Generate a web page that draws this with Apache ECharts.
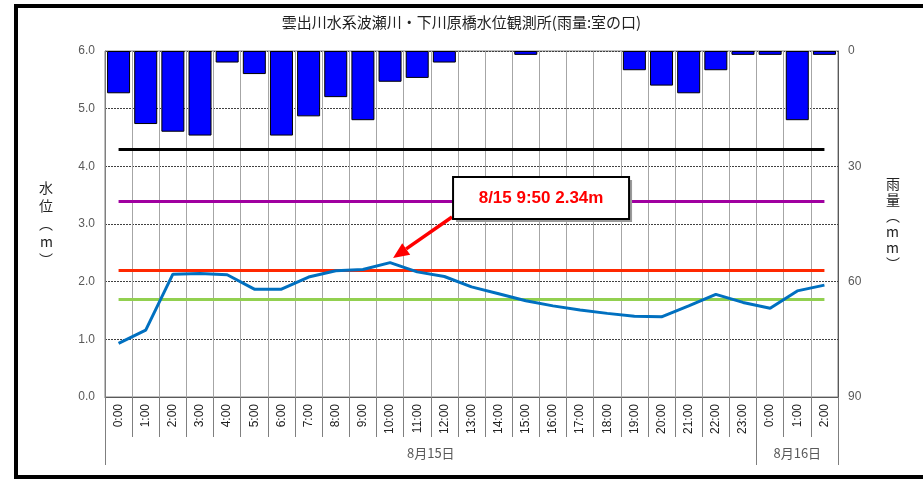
<!DOCTYPE html>
<html>
<head>
<meta charset="utf-8">
<script src="https://cdn.jsdelivr.net/npm/echarts@6/dist/echarts.min.js"></script>
<style>
html, body { margin: 0; padding: 0; background: #fff; }
#main { width: 923px; height: 479px; }
</style>
</head>
<body>
<div id="main"></div>
<script>
// 時刻 (8/15 0:00 ～ 8/16 2:00)
const hours = ['0:00', '1:00', '2:00', '3:00', '4:00', '5:00', '6:00', '7:00', '8:00', '9:00',
  '10:00', '11:00', '12:00', '13:00', '14:00', '15:00', '16:00', '17:00', '18:00', '19:00',
  '20:00', '21:00', '22:00', '23:00', '0:00', '1:00', '2:00'];
// 水位 (m)
const waterLevel = [0.93, 1.16, 2.13, 2.14, 2.12, 1.87, 1.87, 2.08, 2.19, 2.21,
  2.33, 2.17, 2.09, 1.91, 1.79, 1.67, 1.58, 1.51, 1.45, 1.40,
  1.39, 1.58, 1.78, 1.64, 1.54, 1.84, 1.94];
// 雨量 (mm)
const rainfall = [11, 19, 21, 22, 3, 6, 22, 17, 12, 18,
  8, 7, 3, 0, 0, 1, 0, 0, 0, 5,
  9, 11, 5, 1, 1, 18, 1];
// 日付と時間数
const days = ['8月15日', '8月16日'];
const dayHours = [24, 3];
// 基準水位 (m)
const levelValues = [4.3, 3.4, 2.2, 1.7];
// ピーク
const peakLabel = '8/15 9:50 2.34m';
const peakIndex = 10;
const peakValue = 2.34;

const levelColors = ['#000000', '#A000A0', '#FF2800', '#92D050'];

// 日付の境界と中央
let dayBounds = [0];
let dayCenters = [];
dayHours.forEach(h => {
  let start = dayBounds[dayBounds.length - 1];
  dayCenters.push(start + h / 2);
  dayBounds.push(start + h);
});

let myChart = echarts.init(document.getElementById('main'));
let cjk = '"Noto Sans CJK JP", "Liberation Sans", sans-serif';

let option = {
  animation: false,
  textStyle: { fontFamily: cjk },
  title: {
    text: '雲出川水系波瀬川・下川原橋水位観測所(雨量:室の口)',
    left: 'center',
    top: 10,
    textStyle: { fontSize: 15, fontWeight: 'normal', color: '#222', fontFamily: cjk }
  },
  grid: {
    left: 105, right: 85, top: 51, bottom: 82,
    show: true, borderColor: '#7f7f7f', borderWidth: 1
  },
  xAxis: [
    {
      type: 'category',
      data: hours,
      boundaryGap: true,
      axisLine: { onZero: false, lineStyle: { color: '#595959', width: 1 } },
      axisTick: { show: true, interval: 0, length: 40, lineStyle: { color: '#7f7f7f' } },
      axisLabel: {
        interval: 0, rotate: 90, margin: 7,
        fontSize: 12, color: '#222', fontFamily: '"Liberation Sans", sans-serif'
      },
      splitLine: { show: true, interval: 0, lineStyle: { color: '#a6a6a6', width: 1 } }
    },
    {
      type: 'value',
      min: 0,
      max: hours.length,
      position: 'bottom',
      axisLine: { show: false, onZero: false },
      splitLine: { show: false },
      axisTick: {
        show: true, length: 68, customValues: dayBounds,
        lineStyle: { color: '#7f7f7f' }
      },
      axisLabel: {
        customValues: dayCenters,
        margin: 50,
        fontSize: 13,
        color: '#595959',
        formatter: v => days[dayCenters.indexOf(v)] || ''
      }
    }
  ],
  yAxis: [
    {
      type: 'value',
      min: 0, max: 6, interval: 1,
      name: '水\n位\n︵\nm\n︶',
      nameLocation: 'middle',
      nameRotate: 0,
      nameGap: 52,
      nameTextStyle: { fontSize: 14, color: '#222', lineHeight: 18, padding: [0, 0, 30, 0] },
      axisLine: { show: true, onZero: false, lineStyle: { color: '#7f7f7f' } },
      axisTick: { show: false },
      axisLabel: { formatter: v => v.toFixed(1), fontSize: 12, color: '#595959', margin: 10,
        fontFamily: '"Liberation Sans", sans-serif' },
      splitLine: { show: true, lineStyle: { color: '#404040', type: [2, 1], width: 1 } }
    },
    {
      type: 'value',
      min: 0, max: 90, interval: 30,
      inverse: true,
      name: '雨\n量\n︵\nm\nm\n︶',
      nameLocation: 'middle',
      nameRotate: 0,
      nameGap: 48,
      nameTextStyle: { fontSize: 14, color: '#222', lineHeight: 16, padding: [0, 0, 30, 0] },
      axisLine: { show: true, onZero: false, lineStyle: { color: '#595959' } },
      axisTick: { show: false },
      axisLabel: { fontSize: 12, color: '#595959', margin: 10,
        fontFamily: '"Liberation Sans", sans-serif' },
      splitLine: { show: false }
    }
  ],
  series: [
    {
      name: '雨量',
      type: 'bar',
      xAxisIndex: 0,
      yAxisIndex: 1,
      // 0 mm の時刻は棒を描かない
      data: rainfall.map(v => (v === 0 ? null : v)),
      barWidth: 23,
      itemStyle: { color: '#0000FF', borderColor: '#000', borderWidth: 1 },
      z: 2
    },
    {
      name: '基準水位',
      type: 'line',
      xAxisIndex: 0,
      yAxisIndex: 0,
      data: [],
      z: 3,
      markLine: {
        silent: true,
        symbol: ['none', 'none'],
        label: { show: false },
        lineStyle: { width: 3, type: 'solid' },
        data: levelValues.map((v, i) => [
          { coord: [0, v], lineStyle: { color: levelColors[i], width: 3, type: 'solid' } },
          { coord: [hours.length - 1, v] }
        ])
      }
    },
    {
      name: '水位',
      type: 'line',
      xAxisIndex: 0,
      yAxisIndex: 0,
      data: waterLevel,
      showSymbol: false,
      symbol: 'none',
      lineStyle: { color: '#0070C0', width: 3 },
      itemStyle: { color: '#0070C0' },
      z: 5
    }
  ]
};
myChart.setOption(option);

// ピーク注記
let p = myChart.convertToPixel({ seriesIndex: 2 }, [peakIndex, peakValue]);
let tip = [p[0] + 3, p[1] - 4];
let tail = [p[0] + 62, p[1] - 45];
let dx = tip[0] - tail[0], dy = tip[1] - tail[1];
let len = Math.sqrt(dx * dx + dy * dy);
let ux = dx / len, uy = dy / len;
let hl = 16, hw = 7;
let base = [tip[0] - ux * hl, tip[1] - uy * hl];
let boxX = p[0] + 63, boxY = p[1] - 85, boxW = 176, boxH = 42;

myChart.setOption({
  graphic: [
    {
      type: 'rect',
      shape: { x: 16, y: 6, width: 920, height: 471 },
      style: { fill: 'none', stroke: '#000', lineWidth: 4 },
      z: 100
    },
    {
      type: 'line',
      shape: { x1: tail[0], y1: tail[1], x2: base[0], y2: base[1] },
      style: { stroke: '#FF0000', lineWidth: 3.5 },
      z: 50
    },
    {
      type: 'polygon',
      shape: {
        points: [tip,
          [base[0] - uy * hw, base[1] + ux * hw],
          [base[0] + uy * hw, base[1] - ux * hw]]
      },
      style: { fill: '#FF0000' },
      z: 50
    },
    {
      type: 'rect',
      shape: { x: boxX + 3, y: boxY + 3, width: boxW, height: boxH },
      style: { fill: '#9a9a9a' },
      z: 50
    },
    {
      type: 'rect',
      shape: { x: boxX, y: boxY, width: boxW, height: boxH },
      style: { fill: '#fff', stroke: '#000', lineWidth: 2 },
      z: 51
    },
    {
      type: 'text',
      x: boxX + boxW / 2,
      y: boxY + boxH / 2,
      style: {
        text: peakLabel,
        fill: '#FF0000',
        font: 'bold 17px "Liberation Sans", Arial, sans-serif',
        textAlign: 'center',
        textVerticalAlign: 'middle'
      },
      z: 52
    }
  ]
});
</script>
</body>
</html>
